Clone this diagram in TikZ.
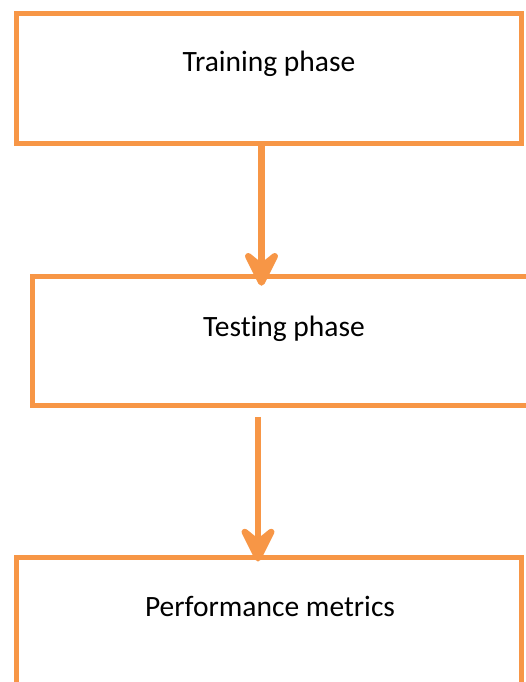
\documentclass[tikz,border=0pt]{standalone}
\usepackage{fontspec}
\setmainfont[Ligatures=NoCommon]{Carlito}
\usetikzlibrary{arrows.meta}
\definecolor{acc}{HTML}{F79646}
\begin{document}
\begin{tikzpicture}[x=1pt,y=-1pt,
  box/.style={draw=acc, line width=5pt, minimum width=505pt, minimum height=129pt, inner sep=0pt, outer sep=0pt},
  lbl/.style={font=\fontsize{29.5}{33}\selectfont, anchor=base, inner sep=0pt},
  flow/.style={draw=acc, line width=6.5pt, -{Stealth[length=45pt,width=45pt,inset=18pt,round]}}]
\useasboundingbox (0,0) rectangle (525,682);
\node[box] (b1) at (268.5,78.5) {};
\node[box] (b2) at (285,341.25) {};
\node[box] (b3) at (269,622) {};
\node[lbl] (t1) at (269,72) {Training phase};
\node[lbl] (t2) at (284,336.5) {Testing phase};
\node[lbl] (t3) at (270,616.5) {Performance metrics};
\coordinate (a1) at (261.5,0);
\coordinate (a2) at (258,0);
\draw[flow, shorten >=-9pt] (b1.south -| a1) -- (b2.north -| a1);
\draw[flow, shorten <=11pt, shorten >=-4pt] (b2.south -| a2) -- (b3.north -| a2);
\end{tikzpicture}
\end{document}
